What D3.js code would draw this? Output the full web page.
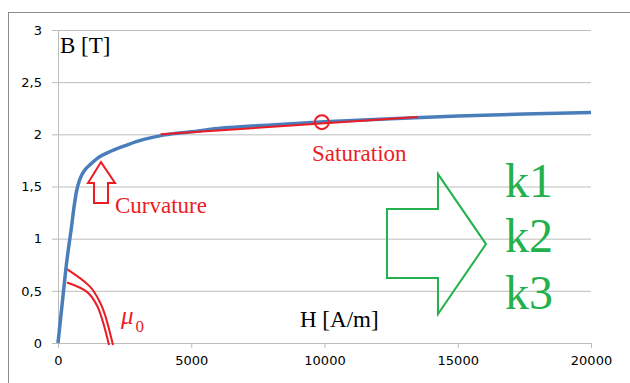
<!DOCTYPE html>
<html>
<head>
<meta charset="utf-8">
<script src="https://cdn.jsdelivr.net/npm/d3@7"></script>
<style>
  body { margin: 0; background: #fff; }
  svg { display: block; }
  .serif { font-family: "Liberation Serif", "Times New Roman", "DejaVu Serif", serif; }
  .sans { font-family: "DejaVu Sans", sans-serif; }
</style>
</head>
<body>
<div id="container"></div>
<script>
/* DATA */
const hValues = [0, 200, 300, 400, 500, 600, 700, 800, 900, 1000, 1250, 1500, 2000, 2500, 3000, 4000, 5000, 6000, 8000, 10000, 12500, 15000, 17500, 20000];
const bValues = [0, 0.48, 0.72, 0.92, 1.1, 1.3, 1.46, 1.555, 1.615, 1.655, 1.72, 1.775, 1.84, 1.89, 1.935, 1.995, 2.025, 2.055, 2.09, 2.12, 2.15, 2.175, 2.195, 2.21];
const xTicks = [0, 5000, 10000, 15000, 20000];
const yTicks = [0, 0.5, 1, 1.5, 2, 2.5, 3];

// saturation tangent and marker
const satH = [3850, 13500];
const satB = [2.0, 2.165];
const satPoint = [9900, 2.117];

// mu0 lines
const mu0UpperH = [263, 1201, 1576, 1764, 2064];
const mu0UpperB = [0.72, 0.54, 0.39, 0.27, -0.02];
const mu0LowerH = [338, 1088, 1463, 1688, 1914];
const mu0LowerB = [0.58, 0.49, 0.36, 0.20, -0.02];

// arrows (outline points in H/B units)
const curvArrowH = [1613, 2139, 1876, 1876, 1351, 1351, 1126];
const curvArrowB = [1.734, 1.533, 1.533, 1.341, 1.341, 1.533, 1.533];
const greenArrowH = [12344, 14258, 14258, 16060, 14258, 14258, 12344];
const greenArrowB = [1.284, 1.284, 1.619, 0.948, 0.278, 0.623, 0.623];

const kLabels = ['k1', 'k2', 'k3'];
const kB = [1.398, 0.872, 0.326];

/* CONSTANTS */
const width = 630;
const height = 383;
const blue = '#4a7ebb';
const red = '#ec1c24';
const green = '#22b14c';
const grid = '#bdbdbd';

const x = d3.scaleLinear().domain([0, 20000]).range([58, 591]);
const y = d3.scaleLinear().domain([0, 3]).range([343, 30]);

const svg = d3.select('#container')
  .append('svg')
  .attr('width', width)
  .attr('height', height);

// outer chart frame
svg.append('rect')
  .attr('x', 8.5).attr('y', 12.5)
  .attr('width', 640).attr('height', 400)
  .attr('fill', 'none')
  .attr('stroke', '#8a8a8a')
  .attr('stroke-width', 1);

// y axis with gridlines
const yAxis = d3.axisLeft(y)
  .tickValues(yTicks)
  .tickSize(-(x(20000) - x(0)))
  .tickPadding(16)
  .tickFormat(d => String(d).replace('.', ','));

const gy = svg.append('g')
  .attr('transform', `translate(${x(0)},0)`)
  .call(yAxis);
gy.select('.domain').remove();
gy.selectAll('.tick line').attr('stroke', grid).attr('x1', -6);
gy.selectAll('.tick text')
  .attr('class', 'sans')
  .attr('font-size', 13)
  .attr('fill', '#000');

svg.append('line')
  .attr('x1', x(0) + 0.5).attr('x2', x(0) + 0.5)
  .attr('y1', y(3)).attr('y2', y(0))
  .attr('stroke', grid);

// x axis
const xAxis = d3.axisBottom(x)
  .tickValues(xTicks)
  .tickSize(5)
  .tickSizeOuter(0)
  .tickPadding(8)
  .tickFormat(d3.format('d'));

const gx = svg.append('g')
  .attr('transform', `translate(0,${y(0)})`)
  .call(xAxis);
gx.select('.domain').attr('stroke', grid);
gx.selectAll('.tick line').attr('stroke', grid);
gx.selectAll('.tick text')
  .attr('class', 'sans')
  .attr('font-size', 13)
  .attr('fill', '#000');

// mu0 lines
const mu0Line = d3.line().curve(d3.curveCatmullRom.alpha(0.5));
[[mu0UpperH, mu0UpperB], [mu0LowerH, mu0LowerB]].forEach(([hs, bs]) => {
  svg.append('path')
    .attr('d', mu0Line(hs.map((h, i) => [x(h), y(bs[i])])))
    .attr('fill', 'none')
    .attr('stroke', red)
    .attr('stroke-width', 2);
});

// B-H curve
const curve = d3.line()
  .x((d, i) => x(hValues[i]))
  .y(d => y(d))
  .curve(d3.curveMonotoneX);

svg.append('path')
  .attr('d', curve(bValues))
  .attr('fill', 'none')
  .attr('stroke', blue)
  .attr('stroke-width', 3.5);

// saturation tangent
svg.append('line')
  .attr('x1', x(satH[0])).attr('y1', y(satB[0]))
  .attr('x2', x(satH[1])).attr('y2', y(satB[1]))
  .attr('stroke', red)
  .attr('stroke-width', 2);

svg.append('circle')
  .attr('cx', x(satPoint[0]))
  .attr('cy', y(satPoint[1]))
  .attr('r', 7)
  .attr('fill', 'none')
  .attr('stroke', red)
  .attr('stroke-width', 2);

// arrows
svg.append('polygon')
  .attr('points', curvArrowH.map((h, i) => [x(h), y(curvArrowB[i])].join(',')).join(' '))
  .attr('fill', 'none')
  .attr('stroke', red)
  .attr('stroke-width', 2);

svg.append('polygon')
  .attr('points', greenArrowH.map((h, i) => [x(h), y(greenArrowB[i])].join(',')).join(' '))
  .attr('fill', 'none')
  .attr('stroke', green)
  .attr('stroke-width', 2);

// texts
svg.append('text')
  .attr('class', 'serif')
  .attr('x', 60).attr('y', 53)
  .attr('font-size', 23)
  .text('B [T]');

svg.append('text')
  .attr('class', 'serif')
  .attr('x', 300).attr('y', 327)
  .attr('font-size', 23)
  .text('H [A/m]');

svg.append('text')
  .attr('class', 'serif')
  .attr('x', 312).attr('y', 161)
  .attr('font-size', 23)
  .attr('fill', red)
  .text('Saturation');

svg.append('text')
  .attr('class', 'serif')
  .attr('x', 115).attr('y', 213)
  .attr('font-size', 23)
  .attr('fill', red)
  .text('Curvature');

const mu = svg.append('text')
  .attr('class', 'serif')
  .attr('x', 121).attr('y', 324)
  .attr('fill', red);
mu.append('tspan').attr('font-size', 25).attr('font-style', 'italic').text('μ');
mu.append('tspan').attr('font-size', 17).attr('dy', 8).attr('dx', 2).text('0');

svg.selectAll('.klabel')
  .data(kLabels)
  .join('text')
  .attr('class', 'klabel serif')
  .attr('x', x(16773))
  .attr('y', (d, i) => y(kB[i]))
  .attr('font-size', 48)
  .attr('fill', green)
  .text(d => d);
</script>
</body>
</html>
